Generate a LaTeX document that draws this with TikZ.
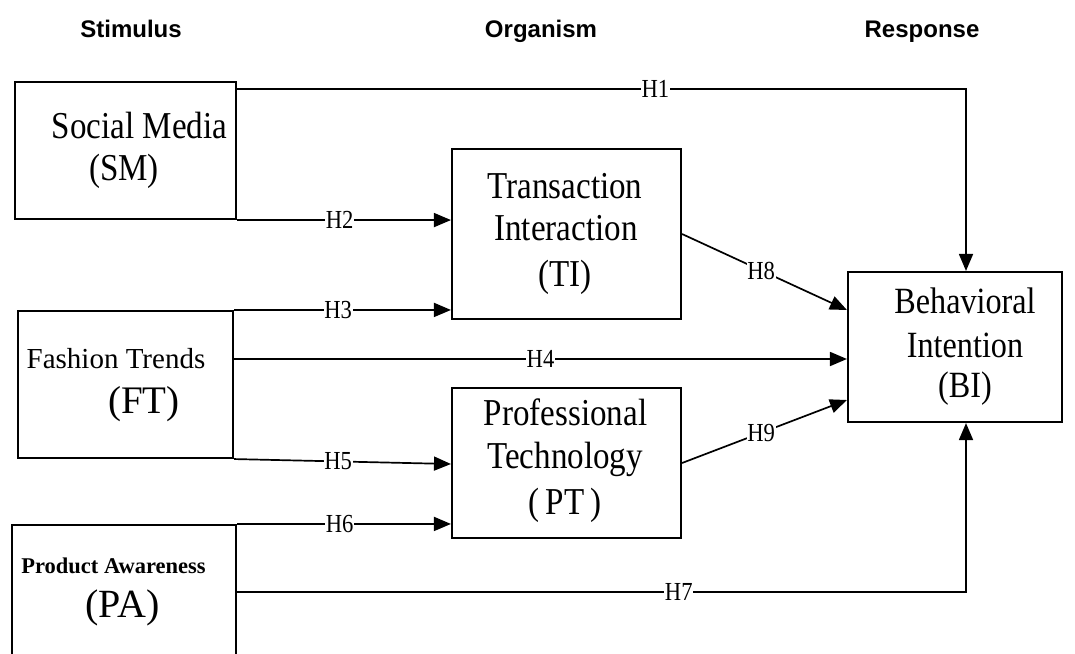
\documentclass[tikz,border=0pt]{standalone}
\usepackage{fontspec}
\setmainfont{Liberation Serif}
\newfontfamily\cond[FakeStretch=0.87]{Liberation Serif}
\newfontfamily\hdr{Liberation Sans}
\usetikzlibrary{arrows.meta,calc}
\begin{document}
\begin{tikzpicture}[x=1pt,y=-1pt,
 box/.style={draw, line width=2.1pt, inner sep=0pt},
 conn/.style={line width=1.7pt, -{Triangle[length=17pt,width=14pt]}},
 lab/.style={fill=white, inner sep=0.8pt, font=\cond\fontsize{26}{26}\selectfont},
 big/.style={anchor=base, inner sep=0pt, font=\cond\fontsize{38}{38}\selectfont},
 norm/.style={anchor=base, inner sep=0pt},
 hd/.style={anchor=base, inner sep=0pt, font=\hdr\bfseries\fontsize{24}{24}\selectfont}]
\clip (0,0) rectangle (1075,653);
\fill[white] (0,0) rectangle (1075,653);

% headers
\node[hd] (hs) at (131,37) {Stimulus};
\node[hd] (ho) at (541,37) {Organism};
\node[hd] (hr) at (922,37) {Response};

% boxes
\node[box, minimum width=221pt, minimum height=137pt] (sm) at (125.5,150.5) {};
\node[box, minimum width=229pt, minimum height=170pt] (ti) at (566.5,234) {};
\node[box, minimum width=229pt, minimum height=150pt] (pt) at (566.5,463) {};
\node[box, minimum width=215pt, minimum height=147pt] (ft) at (125.5,384.5) {};
\node[box, minimum width=224pt, minimum height=145pt] (pa) at (124,597.5) {};
\node[box, minimum width=214pt, minimum height=150pt] (bi) at (955,347) {};

% box texts
\node[big] (sm1) at (139.5,138) {Social Media};
\node[big] (sm2) at (124,180) {(SM)};
\node[big] (ti1) at (565,198) {Transaction};
\node[big] (ti2) at (566,240) {Interaction};
\node[big] (ti3) at (565,286) {(TI)};
\node[big] (pt1) at (565.5,425) {Professional};
\node[big] (pt2) at (565,468) {Technology};
\node[big] (pt3) at (565,514) {(\kern6pt PT\kern6pt)};
\node[big, font=\cond\fontsize{37}{37}\selectfont] (bi1) at (965,313) {Behavioral};
\node[big, font=\cond\fontsize{37}{37}\selectfont] (bi2) at (965,357) {Intention};
\node[big, font=\cond\fontsize{37}{37}\selectfont] (bi3) at (965,397) {(BI)};
\node[norm, font=\fontsize{29}{29}\selectfont] (ft1) at (116,368) {Fashion Trends};
\node[norm, font=\fontsize{39}{39}\selectfont] (ft2) at (144,413) {(FT)};
\node[norm, font=\bfseries\fontsize{22.5}{22.5}\selectfont] (pa1) at (113.5,573) {Product Awareness};
\node[norm, font=\fontsize{40}{40}\selectfont] (pa2) at (122.5,617) {(PA)};

% connectors
\draw[conn] ([yshift=-8pt]sm.north east) -| node[lab, pos=0.287]{H1} ([xshift=11pt]bi.north);
\draw[conn] (sm.south east) -- (sm.south east -| ti.west) node[lab, pos=0.48]{H2};
\draw[conn] (ft.north east) -- (ft.north east -| ti.west) node[lab, pos=0.48]{H3};
\draw[conn] ([yshift=25.5pt]ft.east) -- ([yshift=25.5pt]ft.east -| bi.west) node[lab, pos=0.5]{H4};
\draw[conn] (ft.south east) -- ([yshift=-1pt]pt.west) node[lab, pos=0.48]{H5};
\draw[conn] (pa.north east) -- (pa.north east -| pt.west) node[lab, pos=0.48]{H6};
\draw[conn] ([yshift=5.5pt]pa.east) -| node[lab, pos=0.303]{H7} ([xshift=11pt]bi.south);
\draw[conn] (ti.east) -- ([yshift=37pt]bi.west) node[lab, pos=0.48]{H8};
\draw[conn] (pt.east) -- ([yshift=-53pt]bi.west) node[lab, pos=0.48]{H9};
\end{tikzpicture}
\end{document}
